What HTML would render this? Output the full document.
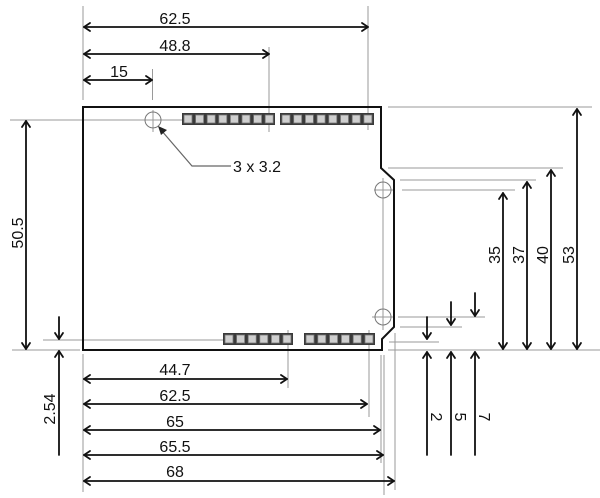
<!DOCTYPE html>
<html><head><meta charset="utf-8"><style>
html,body{margin:0;padding:0;background:#fff;}
svg{display:block;}
text{font-family:"Liberation Sans",Arial,sans-serif;font-size:16px;fill:#111;}
</style></head><body>
<svg width="600" height="498" viewBox="0 0 600 498" xmlns="http://www.w3.org/2000/svg">
<!-- gray extension lines -->
<g stroke="#9a9a9a" stroke-width="1" fill="none">
  <line x1="83" y1="6" x2="83" y2="100"/>
  <line x1="152.5" y1="69" x2="152.5" y2="100"/>
  <line x1="269" y1="47" x2="269" y2="132"/>
  <line x1="368" y1="6" x2="368" y2="130"/>
  <line x1="388" y1="107" x2="592" y2="107"/>
  <line x1="388" y1="168" x2="563" y2="168"/>
  <line x1="400" y1="180" x2="536" y2="180"/>
  <line x1="402" y1="190" x2="515" y2="190"/>
  <line x1="10" y1="120" x2="182" y2="120"/>
  <line x1="153" y1="110" x2="153" y2="132"/>
  <line x1="43" y1="340" x2="223" y2="340"/>
  <line x1="12" y1="350" x2="80" y2="350"/>
  <line x1="388" y1="350" x2="600" y2="350"/>
  <line x1="398" y1="317" x2="485" y2="317"/>
  <line x1="400" y1="327" x2="462" y2="327"/>
  <line x1="389" y1="342" x2="439" y2="342"/>
  <line x1="83" y1="354" x2="83" y2="492"/>
  <line x1="288" y1="330" x2="288" y2="388"/>
  <line x1="369" y1="330" x2="369" y2="417"/>
  <line x1="381" y1="355" x2="381" y2="463"/>
  <line x1="384" y1="355" x2="384" y2="495"/>
  <line x1="395" y1="333" x2="395" y2="490"/>
  <line x1="383" y1="178" x2="383" y2="330"/>
  <line x1="374" y1="190" x2="395" y2="190"/>
  <line x1="372" y1="317" x2="395" y2="317"/>
  <circle cx="153" cy="120" r="8" stroke="#777"/>
  <circle cx="383" cy="190" r="8" stroke="#777"/>
  <circle cx="383" cy="317" r="8" stroke="#777"/>
</g>
<!-- board outline -->
<path d="M83 107 H381 V168 L394 180 V327 L382 339 V350 H83 Z" fill="none" stroke="#111" stroke-width="2"/>
<!-- headers -->
<g id="hdr">
  <rect x="182" y="113" width="93" height="12" fill="#3a3a3a"/>
  <rect x="280" y="113" width="94" height="12" fill="#3a3a3a"/>
  <rect x="223" y="333" width="70" height="12" fill="#3a3a3a"/>
  <rect x="304" y="333" width="71" height="12" fill="#3a3a3a"/>
</g>
<g fill="#cfcfcf" stroke="#777" stroke-width="0.8">
  <rect x="184" y="115" width="8" height="8"/><rect x="195.6" y="115" width="8" height="8"/><rect x="207.2" y="115" width="8" height="8"/><rect x="218.8" y="115" width="8" height="8"/><rect x="230.4" y="115" width="8" height="8"/><rect x="242" y="115" width="8" height="8"/><rect x="253.6" y="115" width="8" height="8"/><rect x="265.2" y="115" width="8" height="8"/>
  <rect x="282" y="115" width="8" height="8"/><rect x="293.7" y="115" width="8" height="8"/><rect x="305.4" y="115" width="8" height="8"/><rect x="317.1" y="115" width="8" height="8"/><rect x="328.8" y="115" width="8" height="8"/><rect x="340.5" y="115" width="8" height="8"/><rect x="352.2" y="115" width="8" height="8"/><rect x="363.9" y="115" width="8" height="8"/>
  <rect x="225" y="335" width="8" height="8"/><rect x="236.6" y="335" width="8" height="8"/><rect x="248.2" y="335" width="8" height="8"/><rect x="259.8" y="335" width="8" height="8"/><rect x="271.4" y="335" width="8" height="8"/><rect x="283" y="335" width="8" height="8"/>
  <rect x="306" y="335" width="8" height="8"/><rect x="317.8" y="335" width="8" height="8"/><rect x="329.6" y="335" width="8" height="8"/><rect x="341.4" y="335" width="8" height="8"/><rect x="353.2" y="335" width="8" height="8"/><rect x="365" y="335" width="8" height="8"/>
</g>
<!-- callout -->
<polyline points="161,130 192,166 231,166" fill="none" stroke="#666" stroke-width="1.2"/>
<polygon points="158,126 167,130 161,135" fill="#222"/>
<text x="233" y="172">3 x 3.2</text>
<!-- black dimension arrows -->
<g stroke="#111" stroke-width="1.8" fill="none" stroke-linecap="round" stroke-linejoin="round">
  <!-- top -->
  <line x1="84" y1="27" x2="368" y2="27"/><polyline points="90,23 84,27 90,31"/><polyline points="362,23 368,27 362,31"/>
  <line x1="84" y1="54" x2="269" y2="54"/><polyline points="90,50 84,54 90,58"/><polyline points="263,50 269,54 263,58"/>
  <line x1="84" y1="80" x2="152" y2="80"/><polyline points="90,76 84,80 90,84"/><polyline points="146,76 152,80 146,84"/>
  <!-- bottom -->
  <line x1="84" y1="379" x2="287" y2="379"/><polyline points="90,375 84,379 90,383"/><polyline points="281,375 287,379 281,383"/>
  <line x1="84" y1="404" x2="367" y2="404"/><polyline points="90,400 84,404 90,408"/><polyline points="361,400 367,404 361,408"/>
  <line x1="84" y1="430" x2="380" y2="430"/><polyline points="90,426 84,430 90,434"/><polyline points="374,426 380,430 374,434"/>
  <line x1="84" y1="455" x2="383" y2="455"/><polyline points="90,451 84,455 90,459"/><polyline points="377,451 383,455 377,459"/>
  <line x1="84" y1="481" x2="394" y2="481"/><polyline points="90,477 84,481 90,485"/><polyline points="388,477 394,481 388,485"/>
  <!-- left -->
  <line x1="26" y1="121" x2="26" y2="349"/><polyline points="22,127 26,121 30,127"/><polyline points="22,343 26,349 30,343"/>
  <line x1="59" y1="317" x2="59" y2="339"/><polyline points="55,333 59,339 63,333"/>
  <line x1="59" y1="351" x2="59" y2="455"/><polyline points="55,357 59,351 63,357"/>
  <!-- right -->
  <line x1="503" y1="193" x2="503" y2="349"/><polyline points="499,199 503,193 507,199"/><polyline points="499,343 503,349 507,343"/>
  <line x1="527" y1="182" x2="527" y2="349"/><polyline points="523,188 527,182 531,188"/><polyline points="523,343 527,349 531,343"/>
  <line x1="551" y1="170" x2="551" y2="349"/><polyline points="547,176 551,170 555,176"/><polyline points="547,343 551,349 555,343"/>
  <line x1="577" y1="109" x2="577" y2="349"/><polyline points="573,115 577,109 581,115"/><polyline points="573,343 577,349 581,343"/>
  <!-- small right -->
  <line x1="427" y1="317" x2="427" y2="339"/><polyline points="423,333 427,339 431,333"/>
  <line x1="451" y1="302" x2="451" y2="325"/><polyline points="447,319 451,325 455,319"/>
  <line x1="475" y1="293" x2="475" y2="316"/><polyline points="471,310 475,316 479,310"/>
  <line x1="427" y1="352" x2="427" y2="455"/><polyline points="423,358 427,352 431,358"/>
  <line x1="451" y1="352" x2="451" y2="455"/><polyline points="447,358 451,352 455,358"/>
  <line x1="475" y1="352" x2="475" y2="455"/><polyline points="471,358 475,352 479,358"/>
</g>
<!-- labels -->
<text x="175" y="24" text-anchor="middle">62.5</text>
<text x="175" y="51" text-anchor="middle">48.8</text>
<text x="119" y="77" text-anchor="middle">15</text>
<text x="175" y="375" text-anchor="middle">44.7</text>
<text x="175" y="401" text-anchor="middle">62.5</text>
<text x="175" y="427" text-anchor="middle">65</text>
<text x="175" y="452" text-anchor="middle">65.5</text>
<text x="175" y="477" text-anchor="middle">68</text>
<text transform="translate(17,233) rotate(-90)" x="0" y="6" text-anchor="middle">50.5</text>
<text transform="translate(49,409) rotate(-90)" x="0" y="6" text-anchor="middle">2.54</text>
<text transform="translate(494,255) rotate(-90)" x="0" y="6" text-anchor="middle">35</text>
<text transform="translate(518,255) rotate(-90)" x="0" y="6" text-anchor="middle">37</text>
<text transform="translate(542,255) rotate(-90)" x="0" y="6" text-anchor="middle">40</text>
<text transform="translate(568,255) rotate(-90)" x="0" y="6" text-anchor="middle">53</text>
<text transform="translate(437,417) rotate(90)" x="0" y="6" text-anchor="middle">2</text>
<text transform="translate(461,417) rotate(90)" x="0" y="6" text-anchor="middle">5</text>
<text transform="translate(485,417) rotate(90)" x="0" y="6" text-anchor="middle">7</text>
</svg>
</body></html>
